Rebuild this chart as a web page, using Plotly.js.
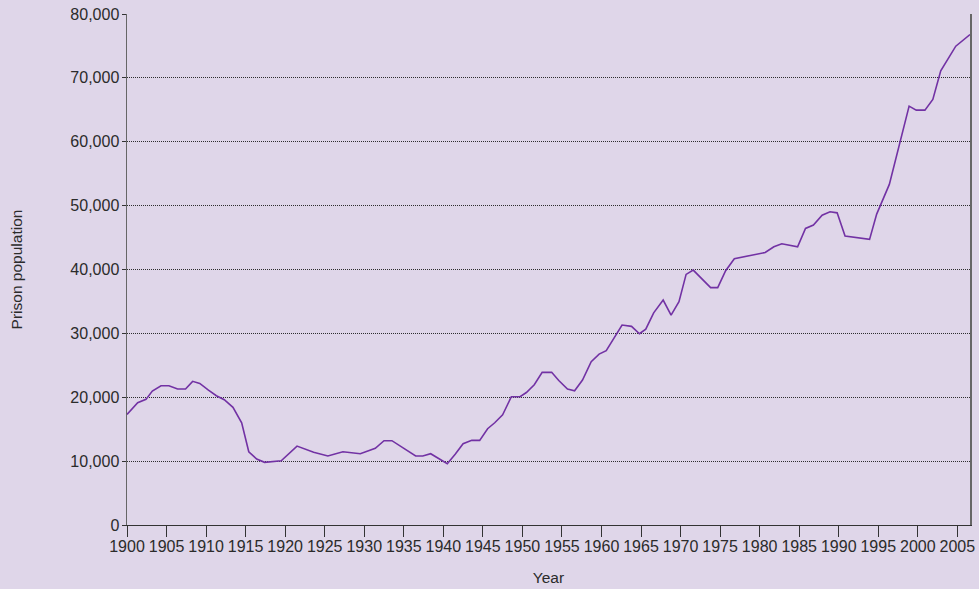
<!DOCTYPE html>
<html>
<head>
<meta charset="utf-8">
<script src="https://cdn.plot.ly/plotly-3.0.1.min.js"></script>
<style>
  html, body { margin: 0; padding: 0; background: #dfd6e9; }
  #chart { width: 979px; height: 589px; }
</style>
</head>
<body>
<div id="chart"></div>
<script>
// Year positions (as plotted) and prison population values
const years = [
  1900.0, 1901.35, 1902.4, 1903.2, 1904.3, 1905.3, 1906.4, 1907.4, 1908.3, 1909.2,
  1910.3, 1911.3, 1912.3, 1913.4, 1914.5, 1915.4, 1916.4, 1917.4, 1919.5, 1921.5,
  1923.6, 1925.4, 1927.3, 1929.5, 1931.4, 1932.5, 1933.5, 1934.5, 1936.5, 1937.4,
  1938.4, 1940.5, 1941.5, 1942.5, 1943.6, 1944.6, 1945.6, 1946.5, 1947.5, 1948.6,
  1949.7, 1950.5, 1951.5, 1952.5, 1953.7, 1954.6, 1955.7, 1956.6, 1957.6, 1958.7,
  1959.7, 1960.6, 1961.6, 1962.6, 1963.8, 1964.8, 1965.6, 1966.6, 1967.8, 1968.8,
  1969.8, 1970.7, 1971.6, 1973.8, 1974.7, 1975.7, 1976.8, 1980.7, 1981.8, 1982.8,
  1984.8, 1985.8, 1986.8, 1987.9, 1988.9, 1989.8, 1990.8, 1993.9, 1994.8, 1996.4,
  1998.9, 1999.8, 2000.9, 2001.9, 2002.9, 2004.8, 2006.6
];
const population = [
  17300, 19140, 19670, 20970, 21800, 21800, 21280, 21280, 22490, 22170,
  21130, 20240, 19610, 18420, 16010, 11470, 10330, 9810, 10060, 12360,
  11380, 10800, 11470, 11160, 12000, 13200, 13200, 12360, 10800, 10800,
  11160, 9600, 11060, 12730, 13250, 13250, 15080, 16010, 17240, 20080,
  20080, 20740, 21950, 23900, 23900, 22630, 21280, 21020, 22690, 25560,
  26760, 27280, 29370, 31300, 31100, 29940, 30670, 33220, 35210, 32860,
  34950, 39230, 39910, 37170, 37170, 39800, 41680, 42670, 43560, 44030,
  43560, 46430, 46950, 48510, 49030, 48870, 45230, 44710, 48670, 53320,
  65570, 64950, 64950, 66620, 71100, 74960, 76790
];
const xTicks = [1900, 1905, 1910, 1915, 1920, 1925, 1930, 1935, 1940, 1945, 1950,
                1955, 1960, 1965, 1970, 1975, 1980, 1985, 1990, 1995, 2000, 2005];
const yTicks = [0, 10000, 20000, 30000, 40000, 50000, 60000, 70000, 80000];
const yTickLabels = ['0', '10,000', '20,000', '30,000', '40,000', '50,000', '60,000', '70,000', '80,000'];

const family = 'Liberation Sans, Arial, sans-serif';
const tickFont = { family: family, size: 16, color: '#2b2b2b' };
const titleFont = { family: family, size: 15.5, color: '#2b2b2b' };

Plotly.newPlot('chart', [{
  x: years,
  y: population,
  type: 'scatter',
  mode: 'lines',
  line: { color: '#7232a4', width: 1.6 },
  hoverinfo: 'x+y'
}], {
  width: 979,
  height: 589,
  margin: { l: 127, r: 9, t: 14, b: 64 },
  paper_bgcolor: '#dfd6e9',
  plot_bgcolor: '#dfd6e9',
  font: tickFont,
  showlegend: false,
  xaxis: {
    range: [1900, 2006.6],
    tickmode: 'array',
    tickvals: xTicks,
    ticktext: xTicks.map(String),
    ticks: 'outside',
    ticklen: 11,
    tickwidth: 1,
    tickcolor: '#333',
    ticklabelstandoff: -4,
    showgrid: false,
    zeroline: false,
    showline: true,
    linecolor: '#333',
    linewidth: 1,
    tickfont: tickFont,
    title: { text: 'Year', font: titleFont, standoff: 17 }
  },
  yaxis: {
    range: [0, 80000],
    tickmode: 'array',
    tickvals: yTicks,
    ticktext: yTickLabels,
    ticks: 'outside',
    ticklen: 4,
    tickwidth: 1,
    tickcolor: '#333',
    ticklabelstandoff: -1,
    showgrid: true,
    gridcolor: '#2e2e2e',
    griddash: '1px,1px',
    gridwidth: 1,
    zeroline: false,
    showline: true,
    mirror: true,
    linecolor: '#666',
    linewidth: 1.5,
    tickfont: tickFont,
    title: { text: 'Prison population', font: titleFont, standoff: 44 }
  }
}, { displayModeBar: false, staticPlot: true });
</script>
</body>
</html>
